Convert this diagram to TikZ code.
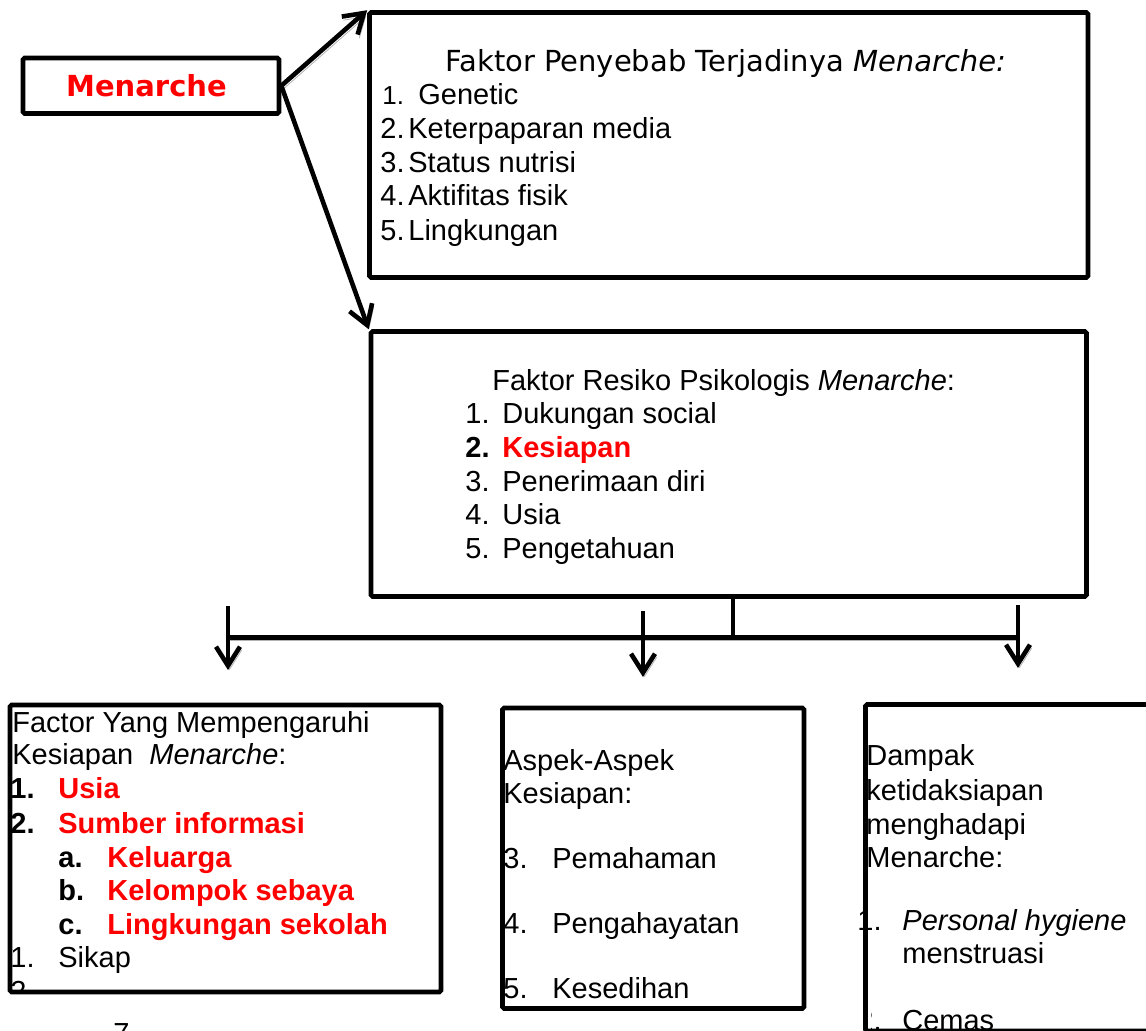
\documentclass[tikz,border=0pt]{standalone}
\usepackage{fontspec}
\setmainfont{Liberation Sans}
\newfontfamily\dejavu{DejaVu Sans}
\usepackage{tikz}
\usetikzlibrary{arrows.meta, positioning}
\tikzset{
  main_box/.style={draw=black, line width=2.3pt, inner sep=0pt, rounded corners=0.8pt},
  line_txt/.style={anchor=base west, inner sep=0pt, font=\fontsize{14.5}{17}\selectfont},
  title_txt/.style={anchor=base west, inner sep=0pt, font=\dejavu\fontsize{14.5}{17}\selectfont},
  gray_shadow/.style={preaction={draw=gray!60, transform canvas={shift={(0.8pt,-1.8pt)}}}},
  connect/.style={line width=2.3pt, gray_shadow},
  arrow/.style={connect, -{Straight Barb[length=9.5pt, width=12pt]}}
}
\newcommand{\itemnum}[2]{\makebox[#1][l]{#2}}

\begin{document}
\begin{tikzpicture}[x=0.5pt, y=-0.5pt]
  \useasboundingbox (0,0) rectangle (1146,1030);
  \clip (0,0) rectangle (1146,1030);

  % boxes
  \node[main_box, minimum width=128pt, minimum height=27.75pt, text=red, font=\dejavu\bfseries\fontsize{14.5}{17}\selectfont] (menarche) at (151,85.75) {Menarche\hspace*{4.5pt}};
  \node[main_box, minimum width=359.25pt, minimum height=132.5pt] (sebab) at (728.75,145) {};
  \node[main_box, minimum width=357.75pt, minimum height=132.5pt] (resiko) at (728.75,464) {};
  \node[main_box, minimum width=215.5pt, minimum height=143.5pt] (kesiapan) at (225.5,848.5) {};
  \node[main_box, minimum width=150.75pt, minimum height=150.25pt] (aspek) at (653.25,858.25) {};
  \node[main_box, minimum width=147.25pt, minimum height=163.25pt] (dampak) at (1012.75,867.75) {};

  % faktor penyebab
  \node[title_txt] (sebab_title) at (445,71) {Faktor Penyebab Terjadinya \textit{Menarche:}};
  \node[line_txt] (sebab_1) at (382,104) {\itemnum{18pt}{\fontsize{13}{15}\selectfont 1.}Genetic};
  \node[line_txt] (sebab_2) at (380,138) {\itemnum{14pt}{2.}Keterpaparan media};
  \node[line_txt] (sebab_3) at (380,172) {\itemnum{14pt}{3.}Status nutrisi};
  \node[line_txt] (sebab_4) at (380,205) {\itemnum{14pt}{4.}Aktifitas fisik};
  \node[line_txt] (sebab_5) at (380,240) {\itemnum{14pt}{5.}Lingkungan};

  % faktor resiko
  \node[line_txt] (resiko_title) at (492,390) {Faktor Resiko Psikologis \textit{Menarche}:};
  \node[line_txt] (resiko_1) at (465,423) {\itemnum{18.5pt}{1.}Dukungan social};
  \node[line_txt] (resiko_2) at (465,457) {\bfseries\itemnum{18.5pt}{2.}\textcolor{red}{Kesiapan}};
  \node[line_txt] (resiko_3) at (465,491) {\itemnum{18.5pt}{3.}Penerimaan diri};
  \node[line_txt] (resiko_4) at (465,524) {\itemnum{18.5pt}{4.}Usia};
  \node[line_txt] (resiko_5) at (465,558) {\itemnum{18.5pt}{5.}Pengetahuan};

  % faktor kesiapan
  \begin{scope}
    \clip (10,705) rectangle (441,992);
    \node[line_txt] (kes_title1) at (12,732) {Factor Yang Mempengaruhi};
    \node[line_txt] (kes_title2) at (12,764) {Kesiapan \ \textit{Menarche}:};
    \node[line_txt] (kes_1) at (10,798) {\bfseries\itemnum{24pt}{1.}\textcolor{red}{Usia}};
    \node[line_txt] (kes_2) at (10,833) {\bfseries\itemnum{24pt}{2.}\textcolor{red}{Sumber informasi}};
    \node[line_txt] (kes_2a) at (58,867) {\bfseries\itemnum{24.5pt}{a.}\textcolor{red}{Keluarga}};
    \node[line_txt] (kes_2b) at (58,900) {\bfseries\itemnum{24.5pt}{b.}\textcolor{red}{Kelompok sebaya}};
    \node[line_txt] (kes_2c) at (58,934) {\bfseries\itemnum{24.5pt}{c.}\textcolor{red}{Lingkungan sekolah}};
    \node[line_txt] (kes_3) at (10,967) {\itemnum{24pt}{1.}Sikap};
    \node[line_txt] (kes_4) at (10,1001) {2.};
  \end{scope}

  % aspek kesiapan
  \node[line_txt] (aspek_title1) at (503,770) {Aspek-Aspek};
  \node[line_txt] (aspek_title2) at (503,803) {Kesiapan:};
  \node[line_txt] (aspek_3) at (503,868) {\itemnum{24.5pt}{3.}Pemahaman};
  \node[line_txt] (aspek_4) at (503,933) {\itemnum{24.5pt}{4.}Pengahayatan};
  \node[line_txt] (aspek_5) at (503,998) {\itemnum{24.5pt}{5.}Kesedihan};

  % dampak
  \node[line_txt] (dampak_title1) at (866,765) {Dampak};
  \node[line_txt] (dampak_title2) at (866,800) {ketidaksiapan};
  \node[line_txt] (dampak_title3) at (866,834) {menghadapi};
  \node[line_txt] (dampak_title4) at (866,867) {Menarche:};
  \node[line_txt] (dampak_1) at (857,930) {\itemnum{22.5pt}{1.}\textit{Personal hygiene}};
  \node[line_txt] (dampak_1b) at (902,963) {menstruasi};
  \begin{scope}
    \clip (871,990) rectangle (1146,1031);
    \node[line_txt] (dampak_2) at (857,1030) {\itemnum{22.5pt}{2.}Cemas};
  \end{scope}
  \node[line_txt] (page_no) at (113,1043) {7};

  % connectors
  \draw[arrow] (menarche.east) -- (sebab.north west);
  \draw[arrow] (menarche.east) -- (resiko.north west);

  \coordinate (stem) at (733,637);
  \coordinate (bar_left) at (228,637);
  \coordinate (bar_right) at (1018,637);
  \draw[connect] (resiko.south -| stem) -- (stem);
  \draw[connect, line width=2.5pt] (bar_left) -- (bar_right);

  \coordinate (drop_l_top) at (228,606);
  \coordinate (drop_l_tip) at (228,670);
  \coordinate (drop_m_top) at (643,611);
  \coordinate (drop_m_tip) at (643,677);
  \coordinate (drop_r_top) at (1018,605);
  \coordinate (drop_r_tip) at (1018,668);
  \draw[arrow] (drop_l_top) -- (drop_l_tip);
  \draw[arrow] (drop_m_top) -- (drop_m_tip);
  \draw[arrow] (drop_r_top) -- (drop_r_tip);
\end{tikzpicture}
\end{document}
